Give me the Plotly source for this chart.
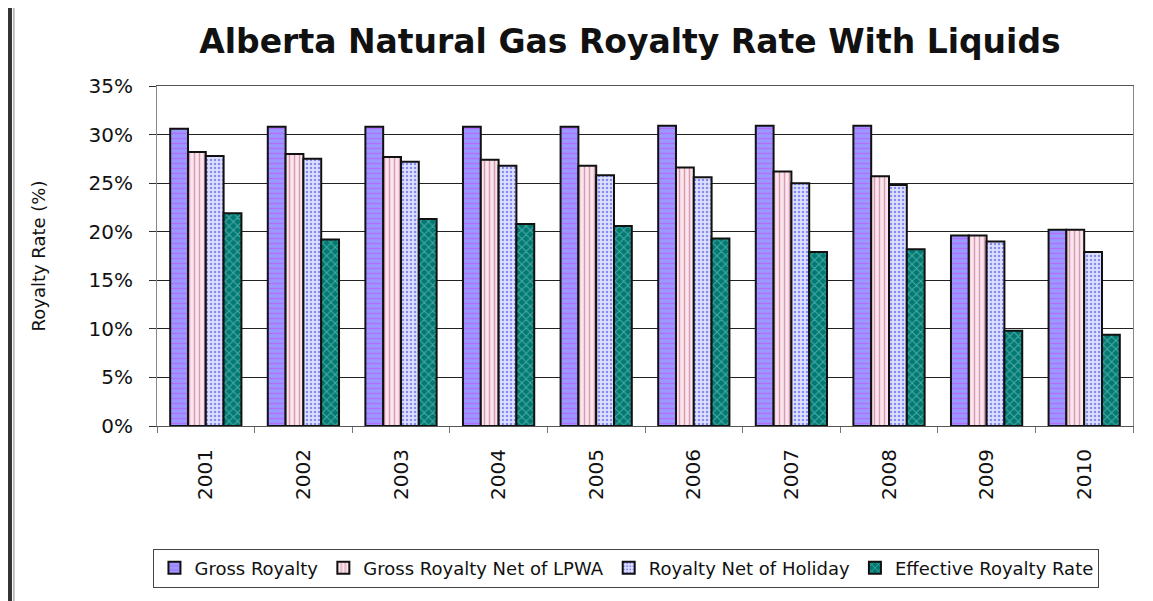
import plotly.graph_objects as go

years = ["2001", "2002", "2003", "2004", "2005", "2006", "2007", "2008", "2009", "2010"]
gross_royalty = [30.6, 30.8, 30.8, 30.8, 30.8, 30.9, 30.9, 30.9, 19.6, 20.2]
gross_net_lpwa = [28.2, 28.0, 27.7, 27.4, 26.8, 26.6, 26.2, 25.7, 19.6, 20.2]
net_holiday = [27.8, 27.5, 27.2, 26.8, 25.8, 25.6, 25.0, 24.8, 19.0, 17.9]
effective_rate = [21.9, 19.2, 21.3, 20.8, 20.6, 19.3, 17.9, 18.2, 9.8, 9.4]

y_ticks = [0, 5, 10, 15, 20, 25, 30, 35]
y_tick_labels = ["0%", "5%", "10%", "15%", "20%", "25%", "30%", "35%"]

FONT = "DejaVu Sans, Liberation Sans, Arial, sans-serif"

series = [
    ("Gross Royalty", gross_royalty, "#9999FF", "#CC44FF", "-", 5),
    ("Gross Royalty Net of LPWA", gross_net_lpwa, "#FBE6EC", "#B05080", "|", 5),
    ("Royalty Net of Holiday", net_holiday, "#DDE0FF", "#3333DD", ".", 4),
    ("Effective Royalty Rate", effective_rate, "#007A73", "#9FD8D0", "x", 6),
]

fig = go.Figure()
for name, vals, bg, fg, shape, size in series:
    fig.add_trace(go.Bar(
        name=name, x=years, y=vals,
        marker=dict(
            color=bg,
            line=dict(color="#111111", width=2),
            pattern=dict(shape=shape, fgcolor=fg, bgcolor=bg, size=size, solidity=0.3, fillmode="overlay"),
        ),
    ))

# page has an 8px body margin, so figure is sized/offset accordingly
fig.update_layout(
    width=1145, height=593,
    margin=dict(l=149, r=20, t=78, b=175),
    paper_bgcolor="white", plot_bgcolor="white",
    barmode="group", bargap=0.27, bargroupgap=0,
    font=dict(family=FONT, color="#111111", size=18),
    title=dict(text="<b>Alberta Natural Gas Royalty Rate With Liquids</b>",
               x=0.4846, xref="paper", xanchor="center", y=0.943, yref="container",
               yanchor="middle", font=dict(size=33, family=FONT, color="#111111")),
    showlegend=True,
    legend=dict(orientation="h", x=0.481, xanchor="center", y=-0.418, yanchor="middle",
                font=dict(size=18, family=FONT, color="#111111"),
                bordercolor="#444444", borderwidth=1, bgcolor="white",
                traceorder="normal", itemwidth=30),
    xaxis=dict(type="category", tickangle=-90, tickfont=dict(size=20, family=FONT),
               showline=True, linecolor="#555555", linewidth=1, mirror=True,
               ticks="outside", tickson="boundaries", ticklen=6, tickcolor="#777777",
               ticklabelstandoff=14, showgrid=False),
    yaxis=dict(range=[0, 35], tickvals=y_ticks, ticktext=y_tick_labels,
               tickfont=dict(size=20, family=FONT),
               showline=True, linecolor="#888888", linewidth=1, mirror=True,
               ticks="outside", ticklen=7, tickcolor="#333333", ticklabelstandoff=12,
               showgrid=True, gridcolor="#222222", gridwidth=1.3,
               title=dict(text="Royalty Rate (%)", font=dict(size=18, family=FONT), standoff=38)),
)

# left page border
fig.add_shape(type="line", xref="paper", yref="paper", x0=-0.1506, x1=-0.1506, y0=-0.52, y1=1.24,
              line=dict(color="#333333", width=4))
fig.add_shape(type="line", xref="paper", yref="paper", x0=-0.1466, x1=-0.1466, y0=-0.52, y1=1.24,
              line=dict(color="#888888", width=1))

fig.write_html("out.html")
